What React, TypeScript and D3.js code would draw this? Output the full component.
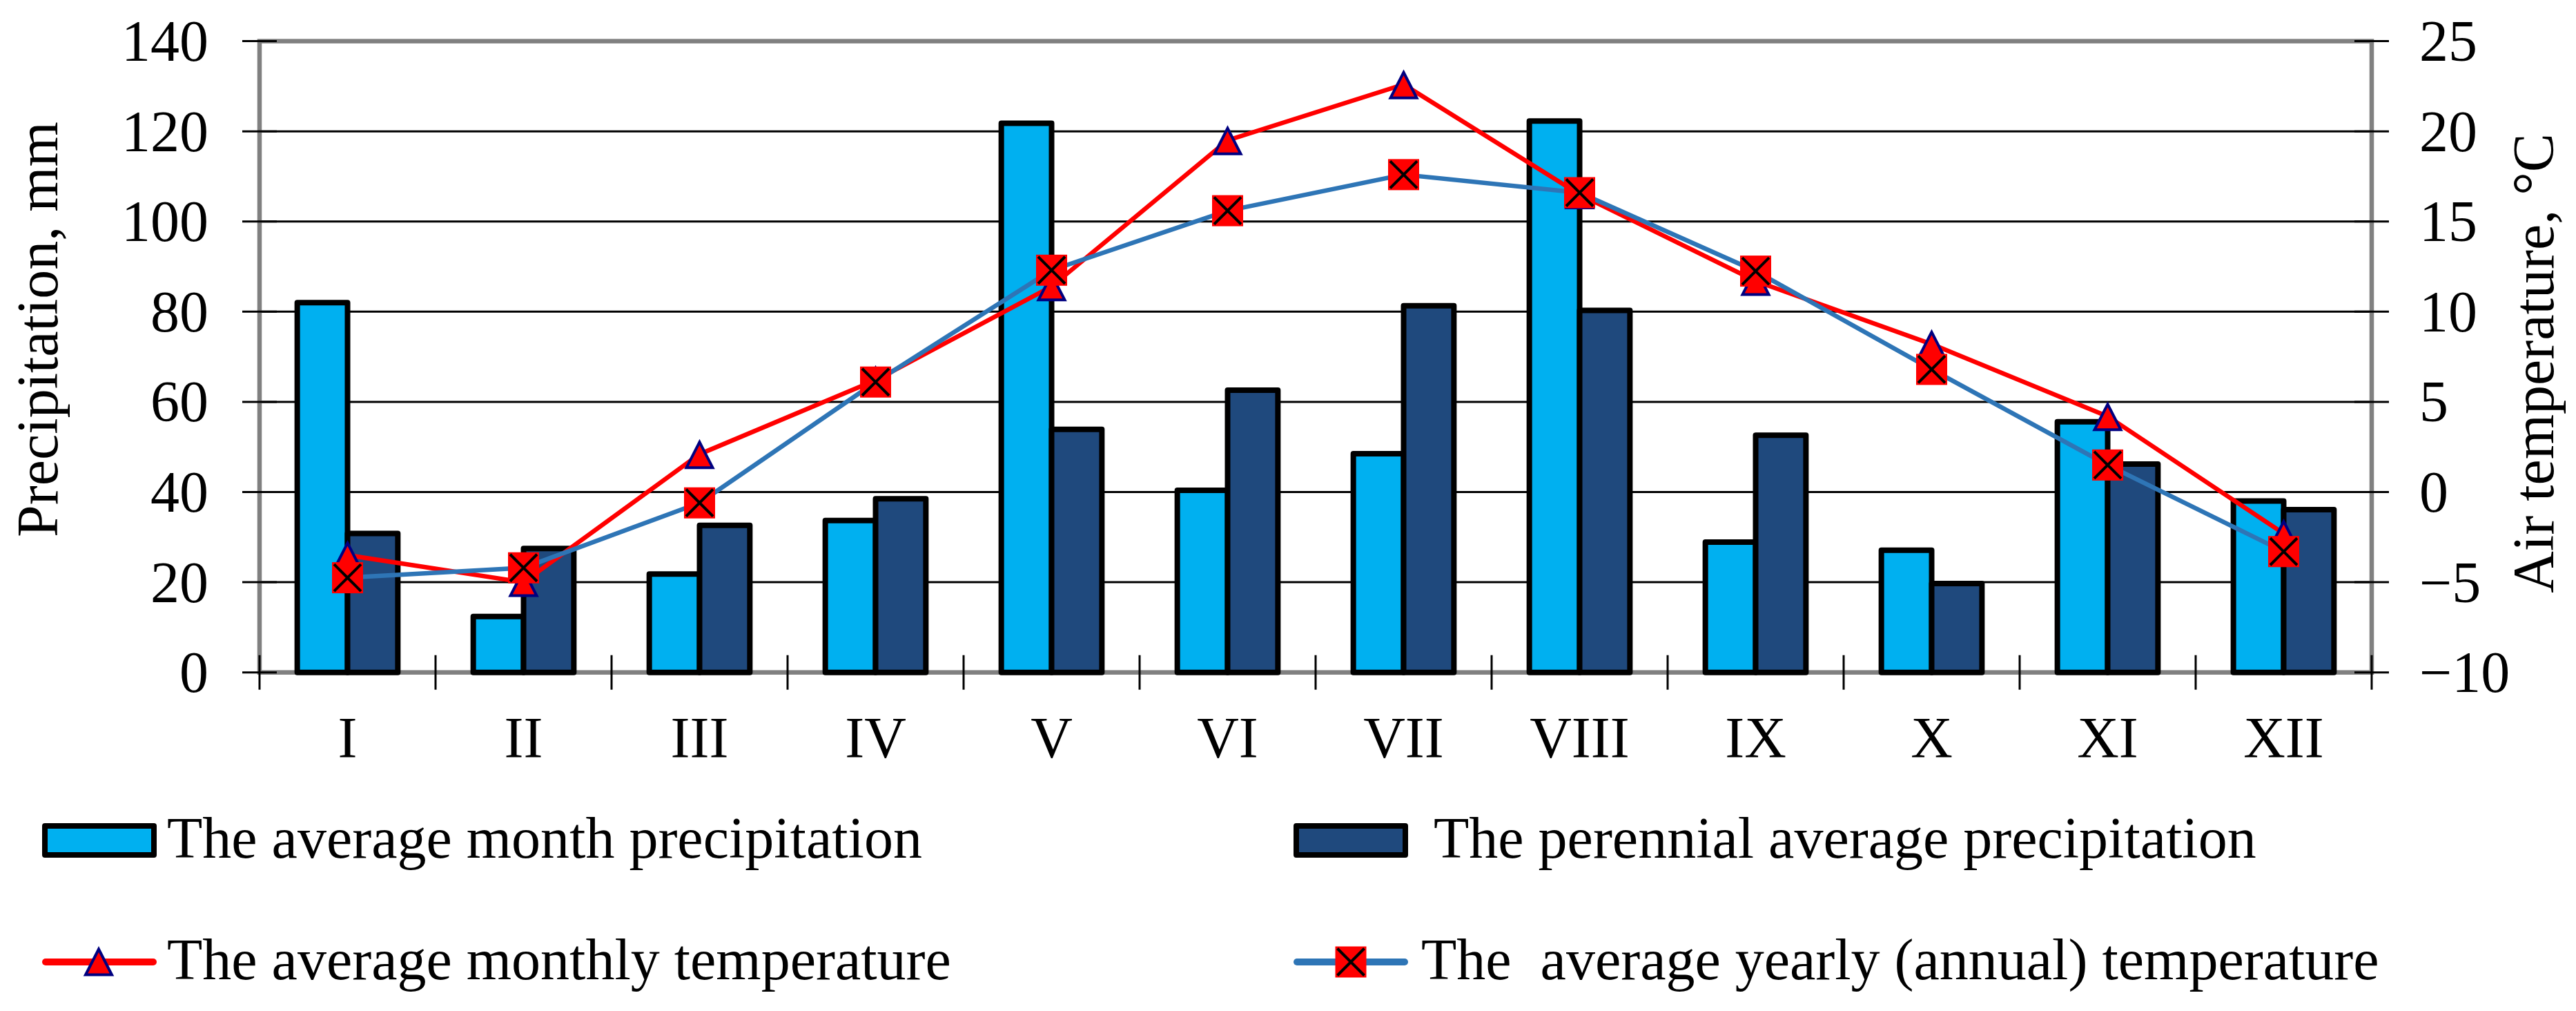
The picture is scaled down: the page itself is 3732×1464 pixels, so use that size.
import React, { useRef, useEffect } from 'react';
import * as d3 from 'd3';

// month labels and values
const months = ['I', 'II', 'III', 'IV', 'V', 'VI', 'VII', 'VIII', 'IX', 'X', 'XI', 'XII'];
const monthPrecip = [82, 12.4, 21.8, 33.7, 121.8, 40.4, 48.5, 122.3, 28.9, 27.1, 55.6, 38];
const perennialPrecip = [30.8, 27.5, 32.6, 38.5, 53.9, 62.6, 81.3, 80.3, 52.6, 19.7, 46.2, 36.1];
const monthlyTemp = [-3.5, -5.0, 2.1, 6.2, 11.4, 19.5, 22.6, 16.5, 11.7, 8.2, 4.2, -2.3];
const annualTemp = [-4.75, -4.2, -0.6, 6.1, 12.3, 15.6, 17.6, 16.6, 12.25, 6.8, 1.5, -3.3];

const precipTicks = [0, 20, 40, 60, 80, 100, 120, 140];
const tempTicks = [-10, -5, 0, 5, 10, 15, 20, 25];

const legendLabels = [
  'The average month precipitation',
  'The perennial average precipitation',
  'The average monthly temperature',
  'The  average yearly (annual) temperature',
];

const W = 3732;
const H = 1464;
const FONT = '"Liberation Serif", "Times New Roman", serif';
const FS = 84;

const C_LIGHT = '#00B0F0';
const C_DARK = '#1F497D';
const C_RED = '#FF0000';
const C_BLUE = '#2E75B6';
const C_NAVY = '#000080';
const C_GRAY = '#808080';

const App: React.FC = () => {
  const svgRef = useRef<SVGSVGElement>(null);

  useEffect(() => {
    const svg = d3.select(svgRef.current);
    svg.selectAll('*').remove();

    const left = 376;
    const right = 3436;
    const top = 59.6;
    const bottom = 973.7;

    const x = d3.scaleBand<string>().domain(months).range([left, right]).padding(0);
    const xs = d3
      .scaleBand<string>()
      .domain(['m', 'p'])
      .range([0, x.bandwidth()])
      .paddingInner(0)
      .paddingOuter(0.75);
    const yP = d3.scaleLinear().domain([0, 140]).range([bottom, top]);
    const yT = d3.scaleLinear().domain([-10, 25]).range([bottom, top]);
    const cx = (m: string) => (x(m) as number) + x.bandwidth() / 2;

    svg.append('rect').attr('width', W).attr('height', H).attr('fill', '#fff');

    // gridlines
    svg
      .selectAll('.grid')
      .data(precipTicks.slice(1, -1))
      .enter()
      .append('line')
      .attr('x1', left)
      .attr('x2', right)
      .attr('y1', d => yP(d))
      .attr('y2', d => yP(d))
      .attr('stroke', '#000')
      .attr('stroke-width', 3);

    // plot border
    svg
      .append('rect')
      .attr('x', left)
      .attr('y', top)
      .attr('width', right - left)
      .attr('height', bottom - top)
      .attr('fill', 'none')
      .attr('stroke', C_GRAY)
      .attr('stroke-width', 6.5);

    // tick marks (cross)
    precipTicks.forEach(t => {
      svg.append('line').attr('x1', left - 25).attr('x2', left + 25)
        .attr('y1', yP(t)).attr('y2', yP(t)).attr('stroke', '#000').attr('stroke-width', 3);
    });
    tempTicks.forEach(t => {
      svg.append('line').attr('x1', right - 25).attr('x2', right + 25)
        .attr('y1', yT(t)).attr('y2', yT(t)).attr('stroke', '#000').attr('stroke-width', 3);
    });
    d3.range(months.length + 1).forEach(i => {
      const xx = left + i * x.step();
      svg.append('line').attr('x1', xx).attr('x2', xx)
        .attr('y1', bottom - 25).attr('y2', bottom + 25).attr('stroke', '#000').attr('stroke-width', 3);
    });

    // tick labels
    svg
      .selectAll('.lt')
      .data(precipTicks)
      .enter()
      .append('text')
      .attr('x', 302)
      .attr('y', d => yP(d) + 28.5)
      .attr('text-anchor', 'end')
      .style('font-family', FONT)
      .style('font-size', `${FS}px`)
      .text(d => d3.format('d')(d));
    svg
      .selectAll('.rt')
      .data(tempTicks)
      .enter()
      .append('text')
      .attr('x', 3505)
      .attr('y', d => yT(d) + 28.5)
      .attr('text-anchor', 'start')
      .style('font-family', FONT)
      .style('font-size', `${FS}px`)
      .text(d => d3.format('d')(d));
    svg
      .selectAll('.ct')
      .data(months)
      .enter()
      .append('text')
      .attr('x', d => cx(d))
      .attr('y', bottom + 123)
      .attr('text-anchor', 'middle')
      .style('font-family', FONT)
      .style('font-size', `${FS}px`)
      .text(d => d);

    // axis titles
    svg.append('text')
      .attr('transform', `translate(83,477) rotate(-90)`)
      .attr('text-anchor', 'middle')
      .style('font-family', FONT)
      .style('font-size', `${FS}px`)
      .text('Precipitation, mm');
    svg.append('text')
      .attr('transform', `translate(3699,526) rotate(-90)`)
      .attr('text-anchor', 'middle')
      .style('font-family', FONT)
      .style('font-size', `${FS}px`)
      .text('Air temperature, °C');

    // bars
    const barStroke = 8;
    const drawBars = (vals: number[], key: string, fill: string) => {
      svg
        .selectAll(`.bar-${key}`)
        .data(vals)
        .enter()
        .append('rect')
        .attr('x', (_, i) => (x(months[i]) as number) + (xs(key) as number))
        .attr('y', d => yP(d))
        .attr('width', xs.bandwidth())
        .attr('height', d => yP(0) - yP(d))
        .attr('fill', fill)
        .attr('stroke', '#000')
        .attr('stroke-width', barStroke)
        .attr('stroke-linejoin', 'round');
    };
    drawBars(monthPrecip, 'm', C_LIGHT);
    drawBars(perennialPrecip, 'p', C_DARK);

    // temperature lines
    const line = d3
      .line<number>()
      .x((_, i) => cx(months[i]))
      .y(d => yT(d));

    const triPath = (w: number, h: number) => `M0,${-h / 2}L${w / 2},${h / 2}L${-w / 2},${h / 2}Z`;
    const drawTri = (g: d3.Selection<any, any, any, any>, px: number, py: number) => {
      g.append('path')
        .attr('d', triPath(38, 37))
        .attr('transform', `translate(${px},${py + 1})`)
        .attr('fill', C_RED)
        .attr('stroke', C_NAVY)
        .attr('stroke-width', 4)
        .attr('stroke-linejoin', 'miter');
    };
    const drawSq = (g: d3.Selection<any, any, any, any>, px: number, py: number) => {
      const s = 45;
      g.append('rect')
        .attr('x', px - s / 2)
        .attr('y', py - s / 2)
        .attr('width', s)
        .attr('height', s)
        .attr('fill', C_RED);
      const k = s / 2 - 3;
      g.append('path')
        .attr('d', `M${px - k},${py - k}L${px + k},${py + k}M${px + k},${py - k}L${px - k},${py + k}`)
        .attr('stroke', '#000')
        .attr('stroke-width', 4);
    };

    svg.append('path')
      .attr('d', line(monthlyTemp) as string)
      .attr('fill', 'none')
      .attr('stroke', C_RED)
      .attr('stroke-width', 6.5)
      .attr('stroke-linejoin', 'round');
    monthlyTemp.forEach((t, i) => drawTri(svg, cx(months[i]), yT(t)));

    svg.append('path')
      .attr('d', line(annualTemp) as string)
      .attr('fill', 'none')
      .attr('stroke', C_BLUE)
      .attr('stroke-width', 6.5)
      .attr('stroke-linejoin', 'round');
    annualTemp.forEach((t, i) => drawSq(svg, cx(months[i]), yT(t)));

    // legend
    const legendX = [61, 1874];
    const textX = [[242, 2077], [242, 2059]];
    const rowY = [1217, 1393];
    const baseY = [1242, 1418];
    const symW = 166;

    [C_LIGHT, C_DARK].forEach((c, j) => {
      svg.append('rect')
        .attr('x', legendX[j] + 4)
        .attr('y', rowY[0] - 21)
        .attr('width', symW - 8)
        .attr('height', 42)
        .attr('fill', c)
        .attr('stroke', '#000')
        .attr('stroke-width', barStroke)
        .attr('stroke-linejoin', 'round');
    });
    [C_RED, C_BLUE].forEach((c, j) => {
      svg.append('line')
        .attr('x1', legendX[j] + 5)
        .attr('x2', legendX[j] + symW - 5)
        .attr('y1', rowY[1])
        .attr('y2', rowY[1])
        .attr('stroke', c)
        .attr('stroke-width', 10)
        .attr('stroke-linecap', 'round');
    });
    drawTri(svg, legendX[0] + symW / 2 - 1, rowY[1] - 1);
    drawSq(svg, legendX[1] + symW / 2, rowY[1]);

    legendLabels.forEach((lab, i) => {
      const row = Math.floor(i / 2);
      const col = i % 2;
      svg.append('text')
        .attr('x', textX[row][col])
        .attr('y', baseY[row])
        .style('font-family', FONT)
        .style('font-size', `${FS}px`)
        .style('white-space', 'pre')
        .text(lab);
    });
  }, []);

  return (
    <div style={{ position: 'absolute', left: 0, top: 0 }}>
      <svg ref={svgRef} width={W} height={H} style={{ display: 'block' }} />
    </div>
  );
};

export default App;
